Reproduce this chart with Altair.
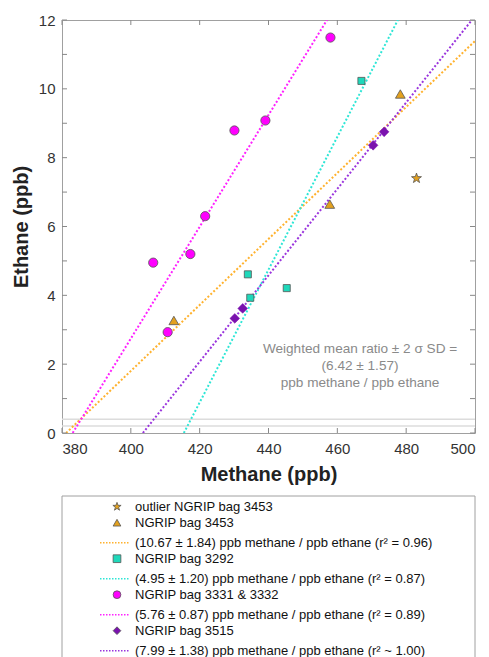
import altair as alt
import pandas as pd

# ---------------- data ----------------
star_x = [483.0]
star_y = [7.4]
tri_x = [412.5, 457.8, 478.3]
tri_y = [3.27, 6.65, 9.85]
sq_x = [434.0, 434.7, 445.3, 467.0]
sq_y = [4.61, 3.93, 4.21, 10.23]
circ_x = [406.5, 410.7, 417.3, 421.6, 430.1, 439.1, 458.0]
circ_y = [4.95, 2.93, 5.20, 6.30, 8.79, 9.08, 11.49]
dia_x = [430.2, 432.5, 470.4, 473.6]
dia_y = [3.33, 3.62, 8.36, 8.75]

fit_series = ["orange", "cyan", "magenta", "purple"]
fit_x0 = [381.2, 415.4, 383.1, 403.5]
fit_y0 = [0.0, 0.0, 0.0, 0.0]
fit_x1 = [500.0, 477.6, 457.0, 499.1]
fit_y1 = [11.39, 12.0, 12.0, 12.0]
limit_y = [0.2, 0.4]
x_ticks = [380, 400, 420, 440, 460, 480, 500]
y_labels = [0, 2, 4, 6, 8, 10, 12]
y_ticks = list(range(0, 13))
annotation = "Weighted mean ratio \u00b1 2 \u03c3 SD =\n(6.42 \u00b1 1.57)\nppb methane / ppb ethane"

legend_labels = [
    "outlier NGRIP bag 3453",
    "NGRIP bag 3453",
    " (10.67 \u00b1 1.84) ppb methane / ppb ethane (r\u00b2 = 0.96)",
    "NGRIP bag 3292",
    "(4.95 \u00b1 1.20) ppb methane / ppb ethane (r\u00b2 = 0.87)",
    "NGRIP bag 3331 & 3332",
    "(5.76 \u00b1 0.87) ppb methane / ppb ethane (r\u00b2 = 0.89)",
    "NGRIP bag 3515",
    "(7.99 \u00b1 1.38) ppb methane / ppb ethane (r\u00b2 ~ 1.00)",
]
legend_kinds = ["symbol", "symbol", "line", "symbol", "line", "symbol", "line", "symbol", "line"]
legend_shapes = ["star", "triangle-up", "", "square", "", "circle", "", "diamond", ""]

# ---------------- styles ----------------
FONT = "Liberation Sans"
C_OR_PT, C_OR_LN = "#E3A11F", "#FFB22E"
C_CY_PT, C_CY_LN = "#1FD8BA", "#2EE6D6"
C_MG_PT, C_MG_LN = "#FF00FF", "#FF22FF"
C_PU_PT, C_PU_LN = "#7A12AE", "#9A35DD"
line_colors = {"orange": C_OR_LN, "cyan": C_CY_LN, "magenta": C_MG_LN, "purple": C_PU_LN}
legend_colors = [C_OR_PT, C_OR_PT, C_OR_LN, C_CY_PT, C_CY_LN, C_MG_PT, C_MG_LN, C_PU_PT, C_PU_LN]
STAR = ("M0,-1L0.235,-0.324L0.951,-0.309L0.38,0.124L0.588,0.809L0,0.4L-0.588,0.809"
        "L-0.38,0.124L-0.951,-0.309L-0.235,-0.324Z")

W, H = 413, 413
xs = alt.Scale(domain=[380, 500], nice=False, zero=False)
ys = alt.Scale(domain=[0, 12], nice=False, zero=False)
X_AX = alt.Axis(values=x_ticks, ticks=False, domain=False, grid=False, labelFontSize=15,
                labelColor="#333", labelFont=FONT, labelPadding=8, title="Methane (ppb)",
                titleFontSize=20, titleFont=FONT, titleFontWeight="bold", titleColor="#222",
                titlePadding=8)
Y_AX = alt.Axis(values=y_labels, ticks=False, domain=False, grid=False, labelFontSize=15,
                labelColor="#333", labelFont=FONT, labelPadding=7, title="Ethane (ppb)",
                titleFontSize=20, titleFont=FONT, titleFontWeight="bold", titleColor="#222",
                titlePadding=7)


def pts(xv, yv, shape, fill, size, stroke="#555", sw=0.8):
    df = pd.DataFrame({"x": xv, "y": yv})
    return alt.Chart(df).mark_point(shape=shape, filled=True, fill=fill, stroke=stroke,
                                    strokeWidth=sw, size=size, opacity=1).encode(
        x=alt.X("x:Q", scale=xs, axis=X_AX),
        y=alt.Y("y:Q", scale=ys, axis=Y_AX),
    )


limits = alt.Chart(pd.DataFrame({"y": limit_y})).mark_rule(color="#dcdcdc", strokeWidth=1.5).encode(
    y=alt.Y("y:Q", scale=ys, axis=Y_AX))

fit_rows = []
for s, a, b, c, d in zip(fit_series, fit_x0, fit_y0, fit_x1, fit_y1):
    fit_rows.append({"s": s, "x": a, "y": b})
    fit_rows.append({"s": s, "x": c, "y": d})
fits = alt.Chart(pd.DataFrame(fit_rows)).mark_line(strokeDash=[2, 2], strokeWidth=2, clip=True).encode(
    x=alt.X("x:Q", scale=xs, axis=X_AX),
    y=alt.Y("y:Q", scale=ys, axis=Y_AX),
    color=alt.Color("s:N", scale=alt.Scale(domain=list(line_colors.keys()),
                                           range=list(line_colors.values())), legend=None),
)

ann = alt.Chart(pd.DataFrame({"x": [466.6], "y": [2.64], "t": [annotation]})).mark_text(
    font=FONT, fontSize=13.6, color="#8a8a8a", align="center", baseline="top",
    lineBreak="\n", lineHeight=17
).encode(x=alt.X("x:Q", scale=xs, axis=X_AX), y=alt.Y("y:Q", scale=ys, axis=Y_AX), text="t:N")

xt_df = pd.DataFrame({"x": x_ticks})
yt_df = pd.DataFrame({"y": y_ticks})
xt_bot = alt.Chart(xt_df).mark_rule(color="#888").encode(
    x=alt.X("x:Q", scale=xs, axis=X_AX), y=alt.value(H), y2=alt.value(H - 5))
xt_top = alt.Chart(xt_df).mark_rule(color="#888").encode(
    x=alt.X("x:Q", scale=xs, axis=X_AX), y=alt.value(0), y2=alt.value(5))
yt_left = alt.Chart(yt_df).mark_rule(color="#888").encode(
    y=alt.Y("y:Q", scale=ys, axis=Y_AX), x=alt.value(0), x2=alt.value(5))
yt_right = alt.Chart(yt_df).mark_rule(color="#888").encode(
    y=alt.Y("y:Q", scale=ys, axis=Y_AX), x=alt.value(W), x2=alt.value(W - 5))

main = alt.layer(
    limits, fits,
    pts(circ_x, circ_y, "circle", C_MG_PT, 85),
    pts(sq_x, sq_y, "square", C_CY_PT, 50),
    pts(tri_x, tri_y, "triangle-up", C_OR_PT, 95),
    pts(dia_x, dia_y, "diamond", C_PU_PT, 95, stroke=C_PU_PT, sw=0.5),
    pts(star_x, star_y, STAR, C_OR_PT, 110),
    ann, xt_bot, xt_top, yt_left, yt_right,
)

# ---------------- legend box (below the plot, own y scale in pixels) ----------------
BOX_TOP = H + 63        # pixel offset of the legend box from the plot top
BOX_H = 175
ypos = []
cur = 10.7
for i, k in enumerate(legend_kinds):
    if i > 0:
        cur += 20 if k == "line" else 16
    ypos.append(cur)
leg_df = pd.DataFrame({"label": legend_labels, "kind": legend_kinds, "shape": legend_shapes,
                       "color": legend_colors, "ypos": ypos})
lys = alt.Scale(domain=[0, BOX_H], range=[BOX_TOP, BOX_TOP + BOX_H], nice=False, zero=False)
LY = alt.Y("ypos:Q", scale=lys, axis=None)
base = alt.Chart(leg_df)

box = alt.Chart(pd.DataFrame({"ypos": [0.0], "yend": [float(BOX_H)]})).mark_rect(
    fill="white", fillOpacity=0, stroke="#a0a0a0", strokeWidth=1).encode(
    x=alt.value(0), x2=alt.value(W), y=LY, y2="yend:Q")
sym_rows = base.transform_filter(alt.datum.kind == "symbol")
leg_sym = sym_rows.transform_filter(alt.datum.shape != "star").mark_point(
    filled=True, size=60, stroke="#555", strokeWidth=0.8, opacity=1).encode(
    x=alt.value(55), y=LY,
    shape=alt.Shape("shape:N", scale=None),
    fill=alt.Fill("color:N", scale=None),
)
leg_star = sym_rows.transform_filter(alt.datum.shape == "star").mark_point(
    shape=STAR, filled=True, size=75, stroke="#555", strokeWidth=0.8, opacity=1).encode(
    x=alt.value(55), y=LY, fill=alt.Fill("color:N", scale=None))
leg_line = base.transform_filter(alt.datum.kind == "line").mark_rule(
    strokeDash=[1.5, 1.5], strokeWidth=1.5).encode(
    x=alt.value(38), x2=alt.value(68), y=LY,
    color=alt.Color("color:N", scale=None),
)
leg_txt = base.mark_text(font=FONT, fontSize=13, color="#111", align="left",
                         baseline="middle").encode(x=alt.value(73), y=LY, text="label:N")
legend = alt.layer(box, leg_sym, leg_star, leg_line, leg_txt)

chart = alt.layer(main, legend).resolve_scale(y="independent").properties(
    width=W, height=H,
    padding={"left": 3, "top": 5, "right": 5, "bottom": 5},
).configure_view(stroke="#a0a0a0")

chart.save("out.html", embed_options={"renderer": "svg", "actions": False})
